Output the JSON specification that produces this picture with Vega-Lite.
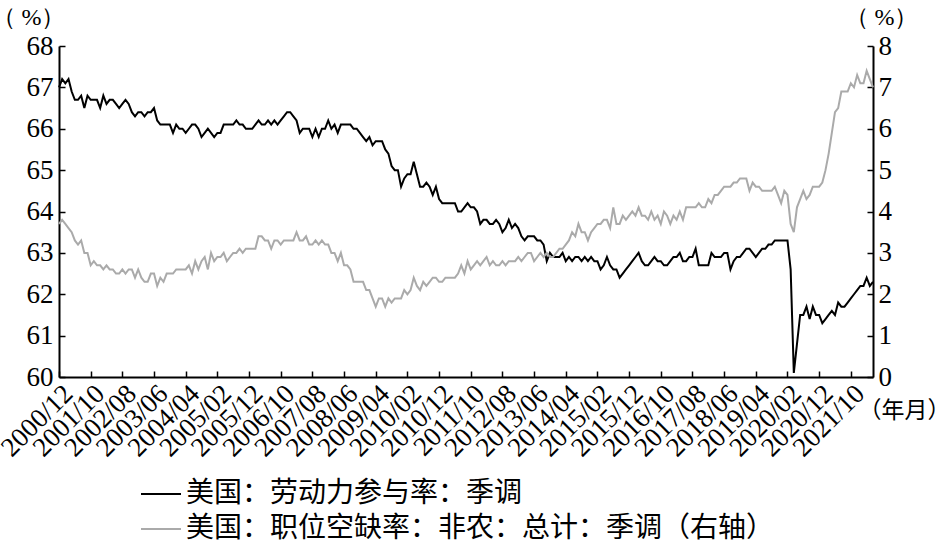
{
"$schema": "https://vega.github.io/schema/vega-lite/v6.json",
"autosize": {"type": "none"},
"padding": {"left": 59, "top": 46, "right": 65, "bottom": 166},
"width": 814,
"height": 331,
"background": "white",
"config": {
  "view": {"stroke": null},
  "axis": {"grid": false, "domainColor": "black", "domainWidth": 2, "tickColor": "black", "tickWidth": 1.5, "labelColor": "black", "labelFont": "Liberation Serif, DejaVu Serif, serif", "labelFontSize": 27, "titleFontWeight": "normal", "titleColor": "black", "titleFont": "Liberation Serif, DejaVu Serif, serif", "titleFontSize": 24}
},
"data": {"values": [
{"d":"2000/12","a":67.0,"b":3.7},
{"d":"2001/01","a":67.2,"b":3.8},{"d":"2001/02","a":67.1,"b":3.7},{"d":"2001/03","a":67.2,"b":3.6},{"d":"2001/04","a":66.9,"b":3.5},{"d":"2001/05","a":66.7,"b":3.3},{"d":"2001/06","a":66.7,"b":3.2},{"d":"2001/07","a":66.8,"b":3.3},{"d":"2001/08","a":66.5,"b":3.0},{"d":"2001/09","a":66.8,"b":3.0},{"d":"2001/10","a":66.7,"b":2.7},{"d":"2001/11","a":66.7,"b":2.8},{"d":"2001/12","a":66.7,"b":2.7},
{"d":"2002/01","a":66.5,"b":2.7},{"d":"2002/02","a":66.8,"b":2.6},{"d":"2002/03","a":66.6,"b":2.7},{"d":"2002/04","a":66.7,"b":2.6},{"d":"2002/05","a":66.7,"b":2.6},{"d":"2002/06","a":66.6,"b":2.5},{"d":"2002/07","a":66.5,"b":2.5},{"d":"2002/08","a":66.6,"b":2.6},{"d":"2002/09","a":66.7,"b":2.5},{"d":"2002/10","a":66.6,"b":2.6},{"d":"2002/11","a":66.4,"b":2.6},{"d":"2002/12","a":66.3,"b":2.4},
{"d":"2003/01","a":66.4,"b":2.6},{"d":"2003/02","a":66.4,"b":2.4},{"d":"2003/03","a":66.3,"b":2.3},{"d":"2003/04","a":66.4,"b":2.3},{"d":"2003/05","a":66.4,"b":2.5},{"d":"2003/06","a":66.5,"b":2.5},{"d":"2003/07","a":66.2,"b":2.2},{"d":"2003/08","a":66.1,"b":2.4},{"d":"2003/09","a":66.1,"b":2.3},{"d":"2003/10","a":66.1,"b":2.5},{"d":"2003/11","a":66.1,"b":2.5},{"d":"2003/12","a":65.9,"b":2.5},
{"d":"2004/01","a":66.1,"b":2.6},{"d":"2004/02","a":66.0,"b":2.6},{"d":"2004/03","a":66.0,"b":2.6},{"d":"2004/04","a":65.9,"b":2.6},{"d":"2004/05","a":66.0,"b":2.7},{"d":"2004/06","a":66.1,"b":2.5},{"d":"2004/07","a":66.1,"b":2.8},{"d":"2004/08","a":66.0,"b":2.6},{"d":"2004/09","a":65.8,"b":2.8},{"d":"2004/10","a":65.9,"b":2.9},{"d":"2004/11","a":66.0,"b":2.6},{"d":"2004/12","a":65.9,"b":3.0},
{"d":"2005/01","a":65.8,"b":2.8},{"d":"2005/02","a":65.9,"b":2.9},{"d":"2005/03","a":65.9,"b":2.9},{"d":"2005/04","a":66.1,"b":3.0},{"d":"2005/05","a":66.1,"b":2.8},{"d":"2005/06","a":66.1,"b":2.9},{"d":"2005/07","a":66.1,"b":3.0},{"d":"2005/08","a":66.2,"b":3.0},{"d":"2005/09","a":66.1,"b":3.1},{"d":"2005/10","a":66.1,"b":3.0},{"d":"2005/11","a":66.0,"b":3.1},{"d":"2005/12","a":66.0,"b":3.1},
{"d":"2006/01","a":66.0,"b":3.1},{"d":"2006/02","a":66.1,"b":3.1},{"d":"2006/03","a":66.2,"b":3.4},{"d":"2006/04","a":66.1,"b":3.4},{"d":"2006/05","a":66.1,"b":3.3},{"d":"2006/06","a":66.2,"b":3.3},{"d":"2006/07","a":66.1,"b":3.1},{"d":"2006/08","a":66.2,"b":3.3},{"d":"2006/09","a":66.1,"b":3.3},{"d":"2006/10","a":66.2,"b":3.2},{"d":"2006/11","a":66.3,"b":3.3},{"d":"2006/12","a":66.4,"b":3.3},
{"d":"2007/01","a":66.4,"b":3.3},{"d":"2007/02","a":66.3,"b":3.3},{"d":"2007/03","a":66.2,"b":3.5},{"d":"2007/04","a":65.9,"b":3.3},{"d":"2007/05","a":66.0,"b":3.3},{"d":"2007/06","a":66.0,"b":3.4},{"d":"2007/07","a":66.0,"b":3.2},{"d":"2007/08","a":65.8,"b":3.2},{"d":"2007/09","a":66.0,"b":3.3},{"d":"2007/10","a":65.8,"b":3.2},{"d":"2007/11","a":66.0,"b":3.3},{"d":"2007/12","a":66.0,"b":3.2},
{"d":"2008/01","a":66.2,"b":3.2},{"d":"2008/02","a":66.0,"b":3.0},{"d":"2008/03","a":66.1,"b":3.0},{"d":"2008/04","a":65.9,"b":2.8},{"d":"2008/05","a":66.1,"b":3.0},{"d":"2008/06","a":66.1,"b":2.7},{"d":"2008/07","a":66.1,"b":2.7},{"d":"2008/08","a":66.1,"b":2.6},{"d":"2008/09","a":66.0,"b":2.3},{"d":"2008/10","a":66.0,"b":2.3},{"d":"2008/11","a":65.9,"b":2.3},{"d":"2008/12","a":65.8,"b":2.3},
{"d":"2009/01","a":65.7,"b":2.1},{"d":"2009/02","a":65.8,"b":2.1},{"d":"2009/03","a":65.6,"b":1.9},{"d":"2009/04","a":65.7,"b":1.7},{"d":"2009/05","a":65.7,"b":1.9},{"d":"2009/06","a":65.7,"b":1.9},{"d":"2009/07","a":65.5,"b":1.7},{"d":"2009/08","a":65.4,"b":1.9},{"d":"2009/09","a":65.1,"b":1.8},{"d":"2009/10","a":65.0,"b":1.9},{"d":"2009/11","a":65.0,"b":1.9},{"d":"2009/12","a":64.6,"b":1.9},
{"d":"2010/01","a":64.8,"b":2.1},{"d":"2010/02","a":64.9,"b":2.0},{"d":"2010/03","a":64.9,"b":2.1},{"d":"2010/04","a":65.2,"b":2.4},{"d":"2010/05","a":64.9,"b":2.2},{"d":"2010/06","a":64.6,"b":2.1},{"d":"2010/07","a":64.6,"b":2.3},{"d":"2010/08","a":64.7,"b":2.2},{"d":"2010/09","a":64.6,"b":2.3},{"d":"2010/10","a":64.4,"b":2.4},{"d":"2010/11","a":64.6,"b":2.4},{"d":"2010/12","a":64.3,"b":2.3},
{"d":"2011/01","a":64.2,"b":2.3},{"d":"2011/02","a":64.2,"b":2.4},{"d":"2011/03","a":64.2,"b":2.4},{"d":"2011/04","a":64.2,"b":2.4},{"d":"2011/05","a":64.2,"b":2.4},{"d":"2011/06","a":64.0,"b":2.5},{"d":"2011/07","a":64.0,"b":2.7},{"d":"2011/08","a":64.1,"b":2.5},{"d":"2011/09","a":64.2,"b":2.8},{"d":"2011/10","a":64.1,"b":2.6},{"d":"2011/11","a":64.1,"b":2.7},{"d":"2011/12","a":64.0,"b":2.8},
{"d":"2012/01","a":63.7,"b":2.7},{"d":"2012/02","a":63.8,"b":2.8},{"d":"2012/03","a":63.8,"b":2.9},{"d":"2012/04","a":63.7,"b":2.7},{"d":"2012/05","a":63.7,"b":2.8},{"d":"2012/06","a":63.8,"b":2.7},{"d":"2012/07","a":63.7,"b":2.7},{"d":"2012/08","a":63.5,"b":2.8},{"d":"2012/09","a":63.6,"b":2.7},{"d":"2012/10","a":63.8,"b":2.8},{"d":"2012/11","a":63.6,"b":2.8},{"d":"2012/12","a":63.7,"b":2.8},
{"d":"2013/01","a":63.6,"b":2.9},{"d":"2013/02","a":63.4,"b":2.8},{"d":"2013/03","a":63.3,"b":2.9},{"d":"2013/04","a":63.4,"b":3.0},{"d":"2013/05","a":63.4,"b":3.0},{"d":"2013/06","a":63.4,"b":2.8},{"d":"2013/07","a":63.3,"b":2.9},{"d":"2013/08","a":63.3,"b":3.0},{"d":"2013/09","a":63.2,"b":2.9},{"d":"2013/10","a":62.8,"b":3.0},{"d":"2013/11","a":63.0,"b":2.9},{"d":"2013/12","a":62.9,"b":2.9},
{"d":"2014/01","a":62.9,"b":3.0},{"d":"2014/02","a":62.9,"b":3.1},{"d":"2014/03","a":63.0,"b":3.1},{"d":"2014/04","a":62.8,"b":3.2},{"d":"2014/05","a":62.9,"b":3.3},{"d":"2014/06","a":62.8,"b":3.5},{"d":"2014/07","a":62.9,"b":3.4},{"d":"2014/08","a":62.9,"b":3.7},{"d":"2014/09","a":62.8,"b":3.5},{"d":"2014/10","a":62.9,"b":3.5},{"d":"2014/11","a":62.8,"b":3.3},{"d":"2014/12","a":62.9,"b":3.5},
{"d":"2015/01","a":62.8,"b":3.6},{"d":"2015/02","a":62.8,"b":3.7},{"d":"2015/03","a":62.6,"b":3.7},{"d":"2015/04","a":62.7,"b":3.8},{"d":"2015/05","a":62.9,"b":3.8},{"d":"2015/06","a":62.7,"b":3.6},{"d":"2015/07","a":62.6,"b":4.1},{"d":"2015/08","a":62.6,"b":3.7},{"d":"2015/09","a":62.4,"b":3.7},{"d":"2015/10","a":62.5,"b":3.9},{"d":"2015/11","a":62.6,"b":3.8},{"d":"2015/12","a":62.7,"b":3.9},
{"d":"2016/01","a":62.8,"b":4.0},{"d":"2016/02","a":62.9,"b":3.9},{"d":"2016/03","a":63.0,"b":4.1},{"d":"2016/04","a":62.8,"b":3.9},{"d":"2016/05","a":62.7,"b":3.9},{"d":"2016/06","a":62.7,"b":3.8},{"d":"2016/07","a":62.8,"b":4.0},{"d":"2016/08","a":62.9,"b":3.8},{"d":"2016/09","a":62.8,"b":3.9},{"d":"2016/10","a":62.8,"b":3.7},{"d":"2016/11","a":62.7,"b":4.0},{"d":"2016/12","a":62.7,"b":3.9},
{"d":"2017/01","a":62.8,"b":3.7},{"d":"2017/02","a":62.9,"b":3.9},{"d":"2017/03","a":62.9,"b":3.8},{"d":"2017/04","a":63.0,"b":4.0},{"d":"2017/05","a":62.8,"b":3.8},{"d":"2017/06","a":62.8,"b":4.1},{"d":"2017/07","a":62.9,"b":4.1},{"d":"2017/08","a":62.9,"b":4.1},{"d":"2017/09","a":63.1,"b":4.1},{"d":"2017/10","a":62.7,"b":4.2},{"d":"2017/11","a":62.7,"b":4.1},{"d":"2017/12","a":62.7,"b":4.1},
{"d":"2018/01","a":62.7,"b":4.3},{"d":"2018/02","a":63.0,"b":4.2},{"d":"2018/03","a":62.9,"b":4.4},{"d":"2018/04","a":62.9,"b":4.4},{"d":"2018/05","a":62.9,"b":4.5},{"d":"2018/06","a":63.0,"b":4.6},{"d":"2018/07","a":63.0,"b":4.6},{"d":"2018/08","a":62.6,"b":4.6},{"d":"2018/09","a":62.8,"b":4.7},{"d":"2018/10","a":62.9,"b":4.7},{"d":"2018/11","a":62.9,"b":4.8},{"d":"2018/12","a":63.0,"b":4.8},
{"d":"2019/01","a":63.1,"b":4.8},{"d":"2019/02","a":63.1,"b":4.5},{"d":"2019/03","a":63.0,"b":4.7},{"d":"2019/04","a":62.9,"b":4.6},{"d":"2019/05","a":63.0,"b":4.6},{"d":"2019/06","a":63.1,"b":4.5},{"d":"2019/07","a":63.1,"b":4.5},{"d":"2019/08","a":63.2,"b":4.5},{"d":"2019/09","a":63.2,"b":4.5},{"d":"2019/10","a":63.3,"b":4.6},{"d":"2019/11","a":63.3,"b":4.4},{"d":"2019/12","a":63.3,"b":4.2},
{"d":"2020/01","a":63.3,"b":4.5},{"d":"2020/02","a":63.3,"b":4.4},{"d":"2020/03","a":62.6,"b":3.7},{"d":"2020/04","a":60.1,"b":3.5},{"d":"2020/05","a":60.8,"b":4.1},{"d":"2020/06","a":61.5,"b":4.3},{"d":"2020/07","a":61.5,"b":4.5},{"d":"2020/08","a":61.7,"b":4.3},{"d":"2020/09","a":61.4,"b":4.4},{"d":"2020/10","a":61.7,"b":4.6},{"d":"2020/11","a":61.5,"b":4.6},{"d":"2020/12","a":61.5,"b":4.6},
{"d":"2021/01","a":61.3,"b":4.7},{"d":"2021/02","a":61.4,"b":5.0},{"d":"2021/03","a":61.5,"b":5.4},{"d":"2021/04","a":61.6,"b":5.9},{"d":"2021/05","a":61.5,"b":6.4},{"d":"2021/06","a":61.8,"b":6.5},{"d":"2021/07","a":61.7,"b":6.9},{"d":"2021/08","a":61.7,"b":6.9},{"d":"2021/09","a":61.8,"b":6.9},{"d":"2021/10","a":61.9,"b":7.1},{"d":"2021/11","a":62.0,"b":7.0},{"d":"2021/12","a":62.1,"b":7.3},
{"d":"2022/01","a":62.2,"b":7.1},{"d":"2022/02","a":62.2,"b":7.1},{"d":"2022/03","a":62.4,"b":7.4},{"d":"2022/04","a":62.2,"b":7.2},{"d":"2022/05","a":62.3,"b":7.0}
]},
"layer": [
  {
    "mark": {"type": "line", "strokeWidth": 2},
    "encoding": {
      "x": {"field": "d", "type": "ordinal", "sort": null, "scale": {"type": "point", "padding": 0},
        "axis": {"values": ["2000/12","2001/10","2002/08","2003/06","2004/04","2005/02","2005/12","2006/10","2007/08","2008/06","2009/04","2010/02","2010/12","2011/10","2012/08","2013/06","2014/04","2015/02","2015/12","2016/10","2017/08","2018/06","2019/04","2020/02","2020/12","2021/10"],
          "labelAngle": -45, "labelAlign": "right", "labelBaseline": "top", "tickSize": -6, "labelPadding": 9, "labelFontSize": 27, "labelOverlap": false, "labelBound": false,
          "title": "（年月）", "titleAngle": 0, "titleX": 845, "titleY": 33, "titleAlign": "center", "titleBaseline": "middle", "titleFont": "Noto Sans CJK SC", "titleFontSize": 23}},
      "y": {"field": "a", "type": "quantitative", "scale": {"domain": [60, 68], "zero": false, "nice": false},
        "axis": {"values": [60,61,62,63,64,65,66,67,68], "tickSize": -6, "labelPadding": 12,
          "title": "（ %）", "titleAngle": 0, "titleX": -31, "titleY": -29, "titleAlign": "center", "titleBaseline": "middle"}},
      "color": {"datum": "美国：劳动力参与率：季调", "type": "nominal",
        "scale": {"domain": ["美国：劳动力参与率：季调", "美国：职位空缺率：非农：总计：季调（右轴）"], "range": ["#000000", "#aaaaaa"]},
        "legend": {"orient": "none", "legendX": 81, "legendY": 427, "direction": "vertical", "title": null,
          "symbolType": "stroke", "symbolSize": 1600, "symbolStrokeWidth": 2, "labelFont": "Noto Sans CJK SC", "labelFontSize": 28, "labelColor": "black", "rowPadding": -8, "labelOffset": 4, "labelLimit": 900}}
    }
  },
  {
    "mark": {"type": "line", "strokeWidth": 2},
    "encoding": {
      "x": {"field": "d", "type": "ordinal", "sort": null},
      "y": {"field": "b", "type": "quantitative", "scale": {"domain": [0, 8], "nice": false},
        "axis": {"orient": "right", "values": [0,1,2,3,4,5,6,7,8], "tickSize": -6, "labelPadding": 11,
          "title": "（ %）", "titleAngle": 0, "titleX": 8, "titleY": -29, "titleAlign": "center", "titleBaseline": "middle"}},
      "color": {"datum": "美国：职位空缺率：非农：总计：季调（右轴）", "type": "nominal"}
    }
  }
],
"resolve": {"scale": {"y": "independent"}}
}
